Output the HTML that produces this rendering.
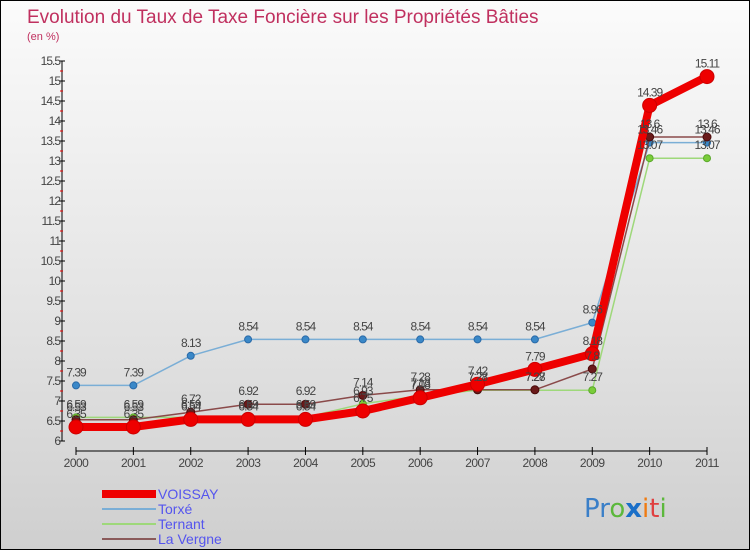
<!DOCTYPE html>
<html><head><meta charset="utf-8"><style>
body{margin:0;}
#c{width:750px;height:550px;position:relative;box-sizing:border-box;border:1px solid #000;background:linear-gradient(#fbfbfb,#e2e2e2 60%,#cfcfcf);font-family:"Liberation Sans",sans-serif;overflow:hidden}
</style></head><body>
<div id="c">
<svg id="s" width="750" height="550" style="position:absolute;left:0;top:0">
<text x="26" y="22" font-size="19" fill="#c0305f">Evolution du Taux de Taxe Foncière sur les Propriétés Bâties</text>
<text x="26" y="39" font-size="11" fill="#c0305f">(en %)</text>
<g id="ax"></g><g id="series"></g><g id="labels"></g>
<g>
<rect x="101" y="489" width="54" height="8" fill="#e00"/>
<text x="157" y="498" font-size="14" fill="#5555ee">VOISSAY</text>
<rect x="101" y="507" width="54" height="2" fill="#7aaed6"/>
<text x="157" y="513" font-size="14" fill="#5555ee">Torxé</text>
<rect x="101" y="522" width="54" height="2" fill="#9ed87a"/>
<text x="157" y="528" font-size="14" fill="#5555ee">Ternant</text>
<rect x="101" y="537" width="54" height="2" fill="#8a5a5a"/>
<text x="157" y="543" font-size="14" fill="#5555ee">La Vergne</text>
</g>
<g font-size="26" font-family="DejaVu Sans,sans-serif">
<text x="583" y="516"><tspan fill="#3a7fc8">Pr</tspan><tspan fill="#5cb83c">o</tspan><tspan fill="#1a6fc8" font-weight="bold">x</tspan><tspan fill="#f07a10">i</tspan><tspan fill="#e04040">t</tspan><tspan fill="#5cb83c">i</tspan></text>
</g>
</svg>
</div>
<script>
const years=[2000,2001,2002,2003,2004,2005,2006,2007,2008,2009,2010,2011];
const yTicks=[6,6.5,7,7.5,8,8.5,9,9.5,10,10.5,11,11.5,12,12.5,13,13.5,14,14.5,15,15.5];
const voissay=[6.35,6.35,6.54,6.54,6.54,6.75,7.08,7.42,7.79,8.18,14.39,15.11];
const torxe=[7.39,7.39,8.13,8.54,8.54,8.54,8.54,8.54,8.54,8.96,13.46,13.46];
const ternant=[6.59,6.59,6.59,6.59,6.59,6.93,7.13,7.27,7.27,7.27,13.07,13.07];
const laVergne=[6.53,6.53,6.72,6.92,6.92,7.14,7.28,7.28,7.28,7.8,13.6,13.6];
const NS='http://www.w3.org/2000/svg';
const X=i=>75+i*(706-75)/11;
const Y=v=>440-(v-6)*40;
function mk(t,a,p){const e=document.createElementNS(NS,t);for(const k in a)e.setAttribute(k,a[k]);p.appendChild(e);return e;}
const ax=document.getElementById('ax');
let l=mk('line',{x1:61,y1:60,x2:61,y2:440,stroke:'#000'},ax);


l=mk('line',{x1:75,y1:450,x2:706,y2:450,stroke:'#000'},ax);


yTicks.forEach(v=>{
 mk('line',{x1:58,y1:Y(v),x2:64,y2:Y(v),stroke:'#000'},ax);
 if(v<15.5) mk('line',{x1:59,y1:Y(v+0.25),x2:62,y2:Y(v+0.25),stroke:'#e00'},ax);
 const t=mk('text',{x:59,y:Y(v)+4,'font-size':12,'text-anchor':'end',fill:'#444','letter-spacing':'-1'},ax);
 t.textContent=v;
 
 
});
years.forEach((y,i)=>{
 mk('line',{x1:X(i),y1:446,x2:X(i),y2:454,stroke:'#000'},ax);
 const t=mk('text',{x:X(i),y:466,'font-size':12,'text-anchor':'middle',fill:'#444','letter-spacing':'-0.5'},ax);
 t.textContent=y;
 
 
});
const sg=document.getElementById('series'),lg=document.getElementById('labels');
function series(arr,name,col,w,r,dot,dotStroke){
 const g=mk('g',{},sg);
 
 
 const p=mk('polyline',{points:arr.map((v,i)=>X(i)+','+Y(v)).join(' '),fill:'none',stroke:col,'stroke-width':w,'stroke-linejoin':'round'},g);
 
 
 arr.forEach((v,i)=>{
  const c=mk('circle',{cx:X(i),cy:Y(v),r:r,fill:dot,stroke:dotStroke,'stroke-width':1},g);
  
  
  const t=mk('text',{x:X(i),y:Y(v)-9,'font-size':12,'text-anchor':'middle',fill:'#444','letter-spacing':'-1'},lg);
  t.textContent=v;
  
  
 });
}
series(torxe,'torxe','#7aaed6',1.5,3.5,'#3a88c8','#2a6aa8');
series(ternant,'ternant','#9ed87a',1.5,3.5,'#7acc3a','#5aa82a');
series(laVergne,'la-vergne','#8a4a4a',1.5,4,'#6a1a1a','#4a0a0a');
series(voissay,'voissay','#ee0000',8,7,'#ee0000','#cc0000');
</script>
</body></html>
